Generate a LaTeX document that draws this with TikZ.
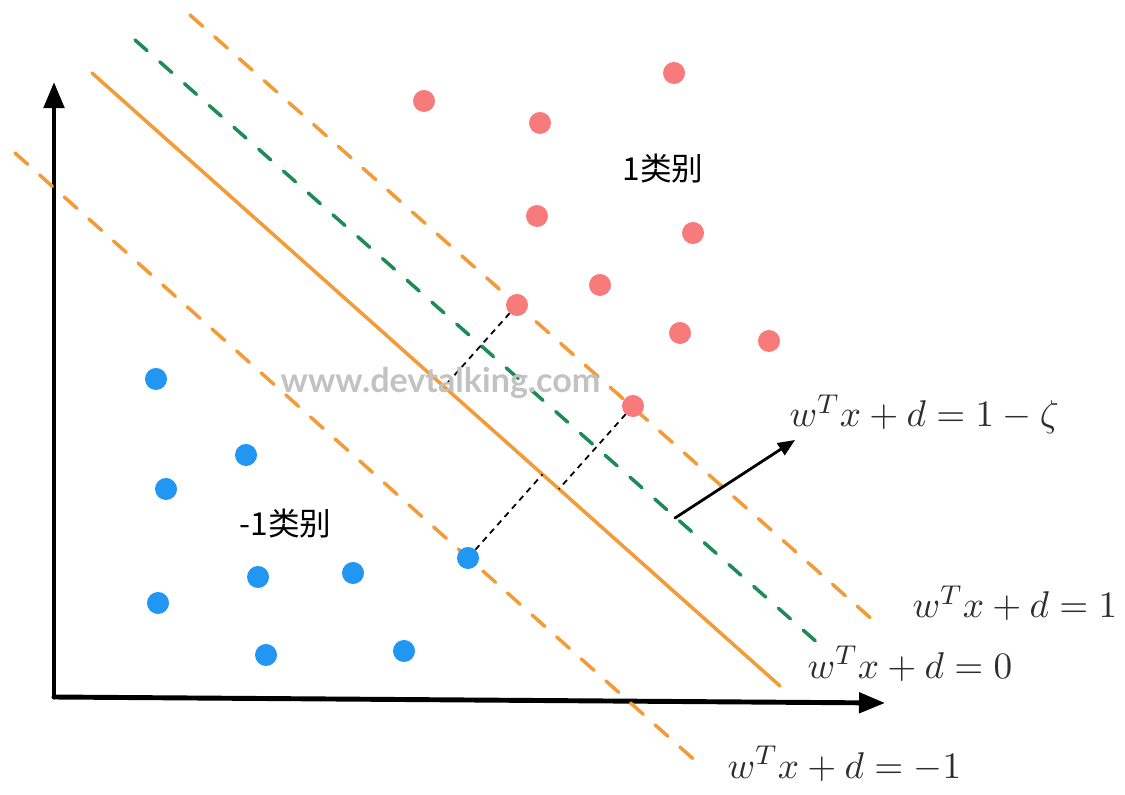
\documentclass[tikz,border=0pt]{standalone}
\usepackage{graphicx}
\usepackage{fontspec}
\newfontfamily\cjk{Noto Sans CJK SC}
\newfontfamily\wmfont{Lato}
\usetikzlibrary{arrows.meta,calc}
\definecolor{svorange}{HTML}{F29B38}
\definecolor{svgreen}{HTML}{1E8B57}
\definecolor{svred}{HTML}{F77B7B}
\definecolor{svblue}{HTML}{2196F3}
\definecolor{svtext}{HTML}{2E2E2E}
\definecolor{svmark}{HTML}{C2C2C2}
\newcommand{\planeeq}[1]{\scalebox{0.967}{$#1$}}

\begin{document}
\begin{tikzpicture}[x=0.01cm,y=-0.01cm,line cap=round,line join=round,
  every node/.style={inner sep=0pt},
  axis/.style={line width=1.4pt,-{Triangle[length=0.26cm,width=0.2cm]}},
  hyper/.style={svorange,line width=1pt},
  margin/.style={svorange,line width=1pt,dash pattern=on 0.17cm off 0.16cm},
  slack/.style={svgreen,line width=1pt,dash pattern=on 0.16cm off 0.17cm},
  proj/.style={black,line width=0.5pt,line cap=butt,dash pattern=on 0.06cm off 0.05cm},
  pointer/.style={line width=0.8pt,-{Triangle[length=0.17cm,width=0.14cm]}},
  posdot/.style={fill=svred},
  negdot/.style={fill=svblue},
  eq/.style={text=svtext,font=\fontsize{10.95}{13}\selectfont},
  tag/.style={font=\cjk\fontsize{9}{11}\selectfont}]
  \useasboundingbox (0,0) rectangle (1125,795);
  % 坐标轴
  \coordinate (o) at (54,697);
  \draw[axis] (o) -- (54,82);
  \draw[axis] (o) -- (885,703);
  % 分隔超平面与间隔边界
  \coordinate (h1) at (92,73);
  \coordinate (h2) at (780,686);
  \draw[margin] (15,153) -- (700,765);
  \draw[hyper] (h1) -- (h2);
  \draw[slack] (135,40) -- (820,645);
  \draw[margin] (190,15) -- (875,622);
  % 支持向量到超平面的距离
  \coordinate (r1) at (517,305);
  \coordinate (r2) at (633,406);
  \coordinate (b1) at (468,558);
  \draw[proj] (r1) -- ($(h1)!(r1)!(h2)$);
  \draw[proj] (r2) -- ($(h1)!(r2)!(h2)$);
  \draw[proj] (b1) -- ($(h1)!(b1)!(h2)$);
  % 样本点
  \foreach \p in {(424,101),(674,73),(540,123),(537,216),(693,233),(600,285),(680,333),(769,341),(r1),(r2)}
    \fill[posdot] \p circle[radius=0.11cm];
  \foreach \p in {(156,379),(246,455),(166,489),(258,577),(353,573),(158,603),(266,655),(404,651),(b1)}
    \fill[negdot] \p circle[radius=0.11cm];
  % 松弛边界的指示箭头
  \coordinate (s) at (675,518);
  \coordinate (t) at (795,440);
  \draw[pointer] (s) -- (t);
  % 文字
  \node[tag,anchor=base west] (pc) at (622,181) {1类别};
  \node[tag,anchor=base west] (nc) at (239,536) {-1类别};
  \node[eq,anchor=base west] (lz) at (789,427) {\planeeq{w^Tx+d=1-\zeta}};
  \node[eq,anchor=base west] (lp) at (912,618) {\planeeq{w^Tx+d=1}};
  \node[eq,anchor=base west] (l0) at (807,678) {\planeeq{w^Tx+d=0}};
  \node[eq,anchor=base west] (ln) at (727,778) {\planeeq{w^Tx+d=-1}};
  \node[anchor=base west,text=svmark,font=\wmfont\bfseries\fontsize{9.7}{12}\selectfont] (wm) at (280,393) {www.devtalking.com};
\end{tikzpicture}
\end{document}
